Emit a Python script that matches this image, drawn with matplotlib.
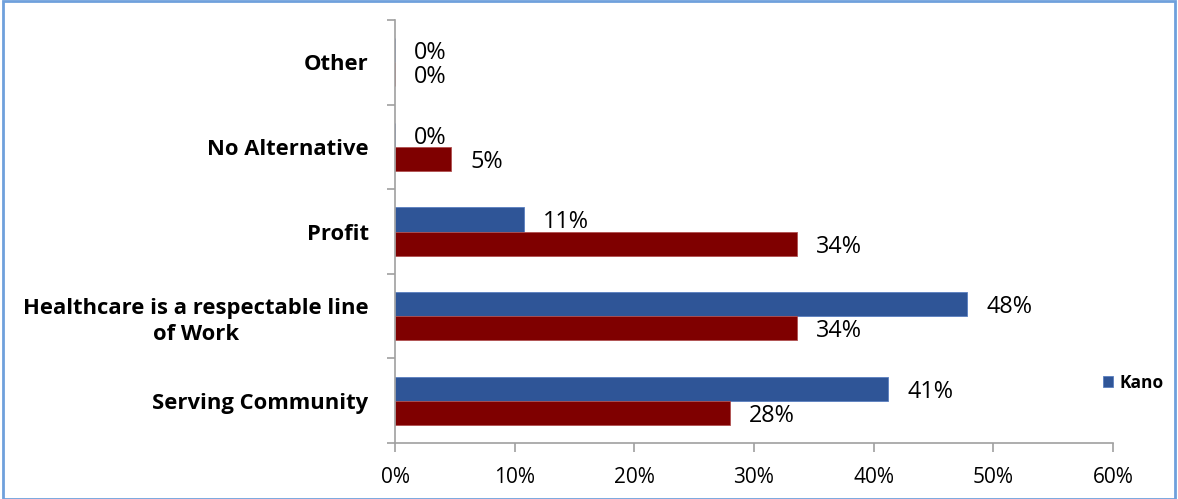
import matplotlib
matplotlib.use("Agg")
import matplotlib.pyplot as plt
from matplotlib.patches import Rectangle
import numpy as np

plt.rcParams['font.family'] = ['Open Sans', 'DejaVu Sans']

categories = ["Serving Community", "Healthcare is a respectable line\nof Work",
              "Profit", "No Alternative", "Other"]
kano = [41.2, 47.8, 10.8, 0.0, 0.0]
kano_labels = ["41%", "48%", "11%", "0%", "0%"]
second = [28.0, 33.6, 33.6, 4.7, 0.0]
second_labels = ["28%", "34%", "34%", "5%", "0%"]
xticks = [0, 10, 20, 30, 40, 50, 60]

W, H = 1178, 499
fig = plt.figure(figsize=(W / 100, H / 100), dpi=100)
ax = fig.add_axes([395 / W, 1 - 443 / H, (1113 - 395) / W, (443 - 20) / H])

y = np.arange(len(categories))
h = 0.285
blue = "#2f5597"
red = "#7f0000"
ax.barh(y + h / 2, kano, height=h, color=blue, edgecolor="#5a7fc0", linewidth=0.6, label="Kano")
ax.barh(y - h / 2, second, height=h, color=red, edgecolor="#b05050", linewidth=0.6, label="_second")

fs_data = 16.8
for yi, v, t in zip(y, kano, kano_labels):
    ax.annotate(t, (v, yi + h / 2), xytext=(19, -3), textcoords="offset pixels",
                ha="left", va="center", fontsize=fs_data, color="black")
for yi, v, t in zip(y, second, second_labels):
    ax.annotate(t, (v, yi - h / 2), xytext=(19, -3), textcoords="offset pixels",
                ha="left", va="center", fontsize=fs_data, color="black")

ax.set_xlim(0, 60)
ax.set_ylim(-0.5, len(categories) - 0.5)
ax.set_xticks(xticks)
ax.set_xticklabels([f"{t}%" for t in xticks], fontsize=15)
ax.set_yticks(np.arange(len(categories) + 1) - 0.5, minor=False)
ax.set_yticklabels([])
ax.set_yticks(y, minor=True)
ax.set_yticklabels(categories, minor=True, fontsize=15.8, fontweight="bold",
                   multialignment="center", linespacing=1.35)
ax.tick_params(axis="y", which="minor", length=0, pad=19)
ax.tick_params(axis="y", which="major", length=6, color="#a0a0a0", width=1.2)
ax.tick_params(axis="x", length=6.5, color="#a0a0a0", width=1.2, pad=11)

for s in ["top", "right"]:
    ax.spines[s].set_visible(False)
for s in ["left", "bottom"]:
    ax.spines[s].set_color("#a0a0a0")
    ax.spines[s].set_linewidth(1.2)

leg = fig.legend(handles=[ax.patches[0]], labels=["Kano"], loc="center left",
                 bbox_to_anchor=(1087 / W, 1 - 383 / H), frameon=False,
                 prop={"weight": "bold", "size": 12.5}, handlelength=0.6,
                 handleheight=0.6, handletextpad=0.4)

fig.patches.append(Rectangle((2.5 / W, 0), (1175 - 2.5) / W, 1 - 0.5 / H,
                             transform=fig.transFigure, fill=False,
                             edgecolor="#6fa0dc", linewidth=2.0))

fig.savefig("out.png", dpi=100, facecolor="white")
